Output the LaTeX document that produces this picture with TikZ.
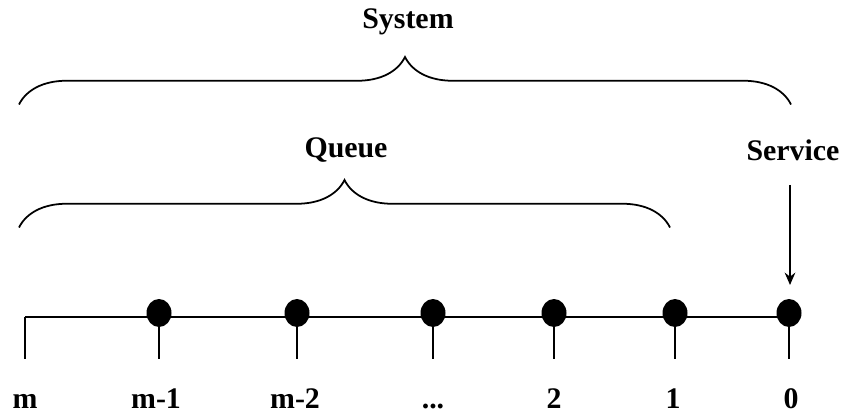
\documentclass[tikz,border=0pt]{standalone}
\usepackage{fontspec}
\setmainfont{Liberation Serif}
\usepackage{tikz}
\usetikzlibrary{calc, positioning, arrows.meta, decorations.pathreplacing}

\begin{document}
\begin{tikzpicture}[>={Stealth[length=7pt,width=6pt]},
    lab/.style={font=\fontsize{17}{20}\selectfont\bfseries, inner sep=0pt, anchor=base},
    head/.style={font=\fontsize{17}{20}\selectfont\bfseries, inner sep=0pt},
    curly/.style={line width=1pt, decorate, decoration={brace, amplitude=0.95cm}}]

    \useasboundingbox (0,0) rectangle (16.86,8.34);

    % =================================================================
    % 1. COORDINATES OF THE LINE AND THE POSITIONS
    % =================================================================
    \coordinate (Lm) at (0.50,2.0);
    \coordinate (L0) at (15.78,2.0);

    \coordinate (D1) at (3.18,2.08);
    \coordinate (D2) at (5.94,2.08);
    \coordinate (D3) at (8.66,2.08);
    \coordinate (D4) at (11.08,2.08);
    \coordinate (D5) at (13.50,2.08);
    \coordinate (D6) at (15.78,2.08);

    % lower ends of the ticks
    \coordinate (Tm) at (0.50,1.16);
    \coordinate (T1) at (3.18,1.16);
    \coordinate (T2) at (5.94,1.16);
    \coordinate (T3) at (8.66,1.16);
    \coordinate (T4) at (11.08,1.16);
    \coordinate (T5) at (13.50,1.16);
    \coordinate (T6) at (15.78,1.16);

    % ends of the braces
    \coordinate (SysL) at (0.38,6.25);
    \coordinate (SysR) at (15.82,6.25);
    \coordinate (QueL) at (0.38,3.79);
    \coordinate (QueR) at (13.40,3.79);

    % =================================================================
    % 2. LINE AND TICKS
    % =================================================================
    \draw[line width=0.8pt] (Lm) -- (L0);
    \draw[line width=1.2pt] (Lm) -- (Tm);
    \draw[line width=1.2pt] (D1) -- (T1);
    \draw[line width=1.2pt] (D2) -- (T2);
    \draw[line width=1.2pt] (D3) -- (T3);
    \draw[line width=1.2pt] (D4) -- (T4);
    \draw[line width=1.2pt] (D5) -- (T5);
    \draw[line width=1.2pt] (D6) -- (T6);

    % =================================================================
    % 3. CUSTOMERS (BLACK DOTS)
    % =================================================================
    \fill (D1) ellipse (0.25 and 0.28);
    \fill (D2) ellipse (0.25 and 0.28);
    \fill (D3) ellipse (0.25 and 0.28);
    \fill (D4) ellipse (0.25 and 0.28);
    \fill (D5) ellipse (0.25 and 0.28);
    \fill (D6) ellipse (0.25 and 0.28);

    % =================================================================
    % 4. BRACES AND HEADINGS
    % =================================================================
    \draw[curly] (SysL) -- (SysR);
    \draw[curly] (QueL) -- (QueR);

    \node[head] (system) at (8.16,7.90) {System};
    \node[head] (queue) at (6.92,5.34) {Queue};
    \node[head] (service) at (15.86,5.34) {Service};

    % arrow to the customer in service
    \coordinate (ArrTop) at (15.80,4.64);
    \coordinate (ArrTip) at (15.80,2.64);
    \draw[->, line width=1.6pt] (ArrTop) -- (ArrTip);

    % =================================================================
    % 5. POSITION LABELS
    % =================================================================
    \node[lab] (nm) at (0.50,0.18) {m};
    \node[lab] (n1) at (3.12,0.18) {m-1};
    \node[lab] (n2) at (5.90,0.18) {m-2};
    \node[lab] (n3) at (8.66,0.18) {...};
    \node[lab] (n4) at (11.08,0.18) {2};
    \node[lab] (n5) at (13.46,0.18) {1};
    \node[lab] (n6) at (15.82,0.18) {0};

\end{tikzpicture}
\end{document}
